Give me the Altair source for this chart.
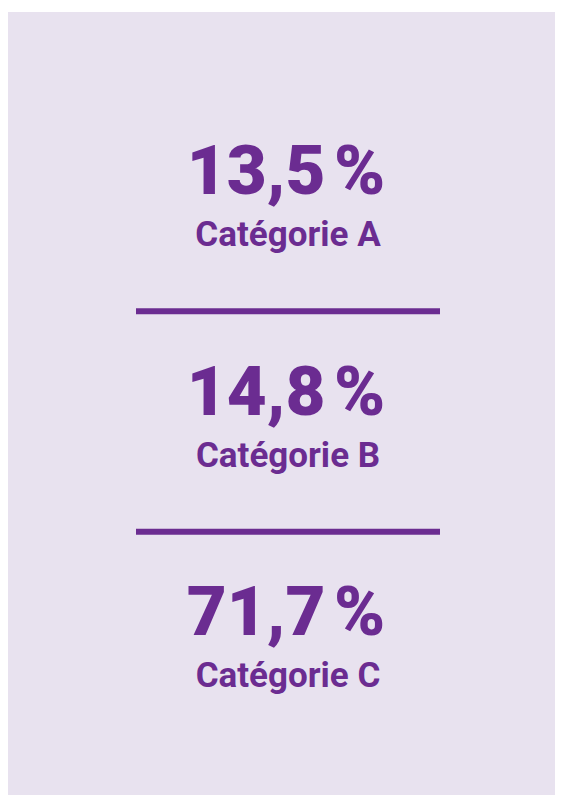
import altair as alt
import pandas as pd

categories = ["Catégorie A", "Catégorie B", "Catégorie C"]
shares = [13.5, 14.8, 71.7]
order = [0, 1, 2]

PURPLE = "#6B2C91"
BG = "#E8E2EF"

df = pd.DataFrame({"cat": categories, "share": shares, "rank": order})

base = alt.Chart(df)
yscale = alt.Scale(domain=[0, 2], range=[182, 623])

numbers = base.transform_calculate(
    txt="replace(format(datum.share, '.1f'), '.', ',') + '\u202f%'"
).mark_text(
    font="Roboto", fontWeight=900, fontSize=69, color=PURPLE,
    align="center", baseline="alphabetic"
).encode(
    x=alt.value(278),
    y=alt.Y("rank:Q", scale=yscale, axis=None),
    text="txt:N",
)

labels = base.mark_text(
    font="Roboto", fontWeight="bold", fontSize=35, color=PURPLE,
    align="center", baseline="alphabetic", dy=52
).encode(
    x=alt.value(280),
    y=alt.Y("rank:Q", scale=yscale, axis=None),
    text="cat:N",
)

rules = base.transform_filter("datum.rank < 2").transform_calculate(
    mid="datum.rank + 0.5"
).mark_rule(color=PURPLE, strokeWidth=6).encode(
    x=alt.value(128),
    x2=alt.value(432),
    y=alt.Y("mid:Q", scale=yscale, axis=None),
    yOffset=alt.value(7),
)

chart = alt.layer(rules, numbers, labels).properties(
    width=547, height=783,
    padding={"top": 4, "left": 0, "right": 0, "bottom": 0},
    autosize="none",
).configure(background="white").configure_view(stroke=None, fill=BG)

chart.save("out.html", embed_options={"renderer": "svg", "actions": False})
